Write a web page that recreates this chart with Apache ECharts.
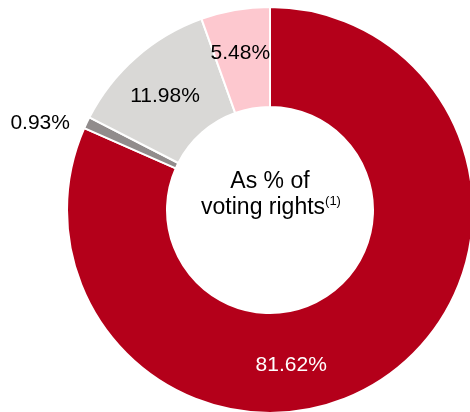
<!DOCTYPE html>
<html>
<head>
<meta charset="utf-8">
<script src="https://cdn.jsdelivr.net/npm/echarts@6/dist/echarts.min.js"></script>
<style>
  html, body { margin: 0; padding: 0; background: #fff; }
  #chart { width: 470px; height: 412px; }
</style>
</head>
<body>
<div id="chart"></div>
<script>
// Shareholder breakdown, as % of voting rights
const categories = ['Group A', 'Group B', 'Group C', 'Group D'];
const shares = [81.62, 0.93, 11.98, 5.48];
const sliceColors = ['#b4001a', '#918c8c', '#d9d8d6', '#fdc8cf'];
const labelColors = ['#ffffff', '#000000', '#000000', '#000000'];
const labelOffsets = [[-64, 25], [-89, -20], [-2, 3], [-3, -3]];

const FONT = '"Liberation Sans", Arial, Helvetica, sans-serif';

const chart = echarts.init(document.getElementById('chart'), null, { renderer: 'canvas' });

chart.setOption({
  animation: false,
  series: [{
    type: 'pie',
    center: [270, 210],
    radius: [103, 203],
    startAngle: 90,
    clockwise: true,
    avoidLabelOverlap: false,
    itemStyle: { borderColor: '#ffffff', borderWidth: 2 },
    label: {
      show: true,
      position: 'inside',
      fontFamily: FONT,
      fontSize: 21,
      formatter: p => p.value.toFixed(2) + '%'
    },
    labelLine: { show: false },
    emphasis: { disabled: true },
    data: categories.map((name, i) => ({
      name,
      value: shares[i],
      itemStyle: { color: sliceColors[i] },
      label: { color: labelColors[i], offset: labelOffsets[i] }
    }))
  }],
  graphic: [{
    type: 'text',
    style: {
      x: 270,
      y: 182,
      text: 'As % of',
      fill: '#000',
      font: '23px ' + FONT,
      align: 'center',
      verticalAlign: 'middle'
    }
  }, {
    type: 'text',
    style: {
      x: 271,
      y: 208,
      text: '{m|voting rights}{s|(1)}',
      align: 'center',
      verticalAlign: 'middle',
      rich: {
        m: { fontFamily: FONT, fontSize: 23, lineHeight: 26, color: '#000' },
        s: { fontFamily: FONT, fontSize: 13, lineHeight: 16, color: '#000', verticalAlign: 'top' }
      }
    }
  }]
});
</script>
</body>
</html>
